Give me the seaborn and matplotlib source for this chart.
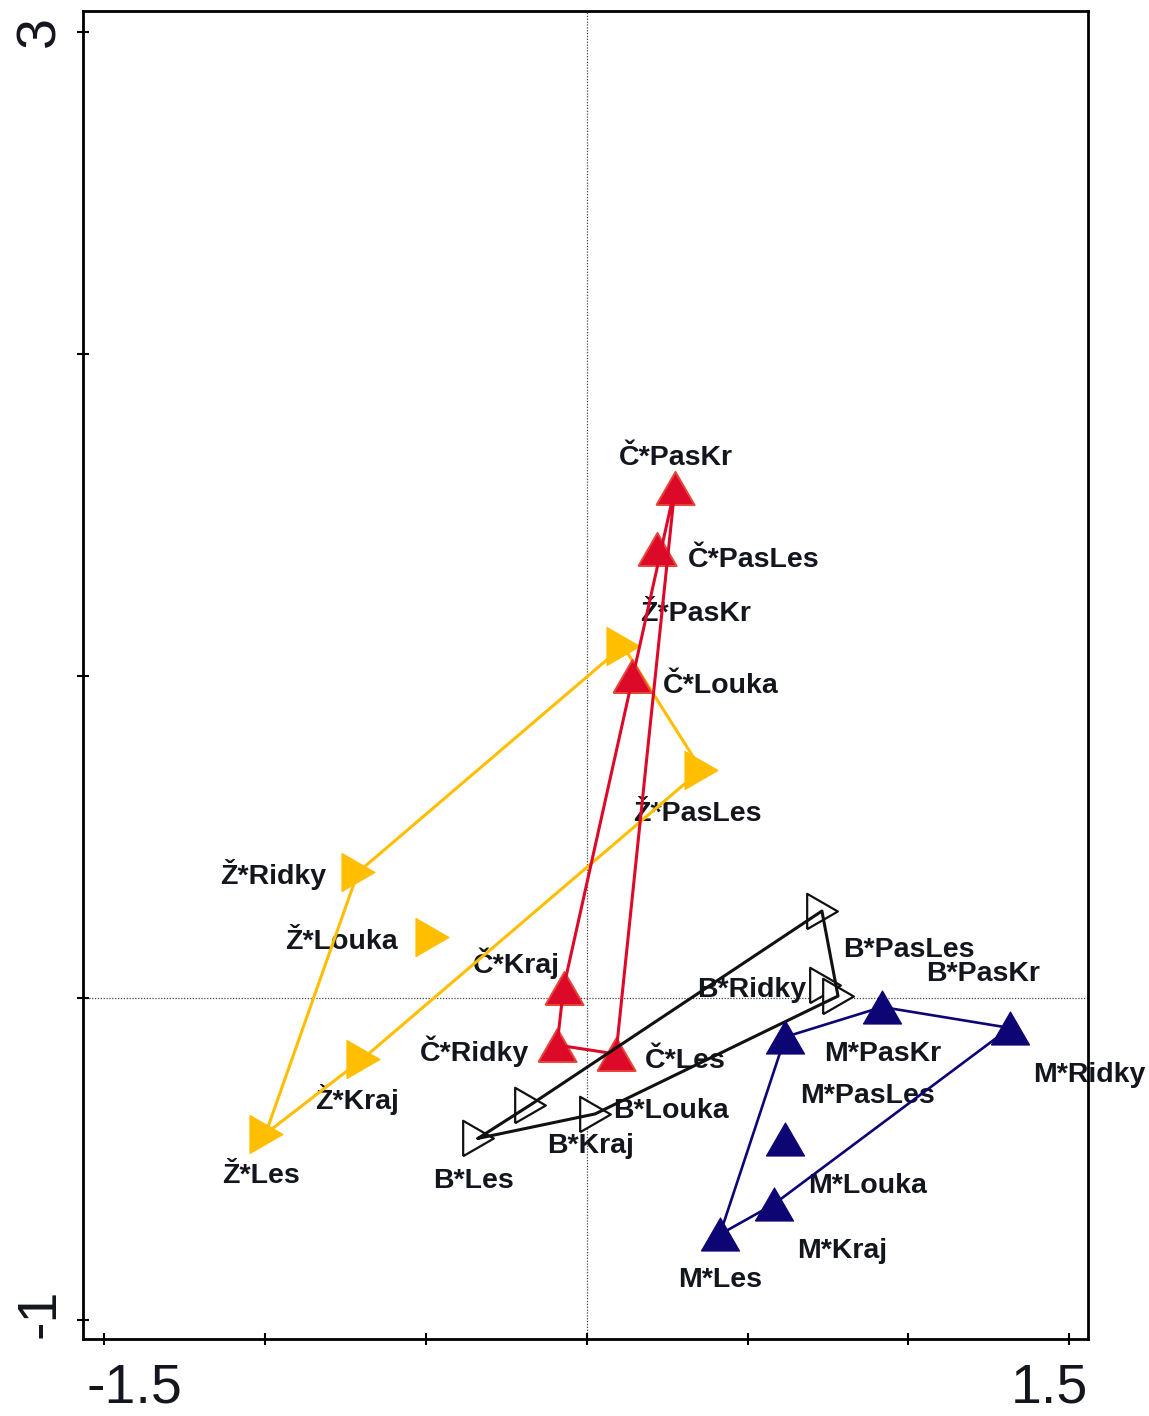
import numpy as np
import pandas as pd
import matplotlib
matplotlib.use("Agg")
import matplotlib.pyplot as plt
import seaborn as sns
from matplotlib.transforms import ScaledTranslation

# ---------------- data (ordination scores) ----------------
sites = ["Les", "Kraj", "Louka", "Ridky", "PasKr", "PasLes"]

z_x = [-0.998, -0.695, -0.481, -0.711, 0.113, 0.356]
z_y = [-0.422, -0.188, 0.188, 0.390, 1.093, 0.709]

c_x = [0.091, -0.072, 0.141, -0.092, 0.274, 0.218]
c_y = [-0.174, 0.031, 1.000, -0.146, 1.583, 1.394]

b_x = [-0.338, -0.175, 0.026, 0.741, 0.781, 0.731]
b_y = [-0.436, -0.332, -0.360, 0.040, 0.006, 0.270]

m_x = [0.414, 0.582, 0.617, 1.315, 0.918, 0.617]
m_y = [-0.734, -0.640, -0.438, -0.093, -0.028, -0.121]

# envelope (polygon) order for each group
z_env = ["Ridky", "PasKr", "PasLes", "Kraj", "Les", "Ridky"]
c_env = ["PasKr", "Kraj", "Ridky", "Les", "PasKr"]
b_env = ["Les", "Kraj", "PasLes", "PasKr", "Louka", "Les"]
m_env = ["Les", "PasLes", "PasKr", "Ridky", "Kraj", "Les"]

x_ticks = [-1.5, -1.0, -0.5, 0.0, 0.5, 1.0, 1.5]
x_ticklabels = ["-1.5", "", "", "", "", "", "1.5"]
y_ticks = [-1, 0, 1, 2, 3]
y_ticklabels = ["-1", "", "", "", "3"]

# ---------------- layout / style ----------------
# label offsets in pixels (dx right, dy down) from the marker to the label's left baseline
z_off = {"Les": (-43, 49), "Kraj": (-48, 50), "Louka": (-147, 12), "Ridky": (-138, 12),
         "PasKr": (17, -25), "PasLes": (-68, 51)}
c_off = {"Les": (29, 14), "Kraj": (-91, -15), "Louka": (31, 17), "Ridky": (-137, 16),
         "PasKr": (-56, -23), "PasLes": (31, 18)}
b_off = {"Les": (-45, 50), "Kraj": (17, 48), "Louka": (18, 4), "Ridky": (-128, 12),
         "PasKr": (88, -15), "PasLes": (21, 46)}
m_off = {"Les": (-42, 53), "Kraj": (23, 54), "Louka": (23, 54), "Ridky": (23, 54),
         "PasKr": (-58, 54), "PasLes": (15, 66)}

sns.set_theme(style="white")
plt.rcParams["font.family"] = ["Liberation Sans", "DejaVu Sans"]

YELLOW = "#FFBE00"
RED = "#DC0A28"
RED_EDGE = "#E8463C"
NAVY = "#0C0573"
BLACK = "#111111"
TXT = "#14161E"

UP = [(-1, -0.866), (1, -0.866), (0, 0.866), (-1, -0.866)]
RIGHT = [(-0.866, -1), (-0.866, 1), (0.866, 0), (-0.866, -1)]

fig = plt.figure(figsize=(11.49, 14.16), dpi=100)
ax = fig.add_axes([0.0725, 0.0544, 0.8744, 0.9378])

ax.axhline(0, color="#444444", lw=0.9, ls=(0, (1, 1.3)), zorder=0.5)
ax.axvline(0, color="#444444", lw=0.9, ls=(0, (1, 1.3)), zorder=0.5)

groups = [
    ("Ž*", z_x, z_y, z_env, z_off, dict(marker=RIGHT, s=27.5 ** 2, color=YELLOW,
                                        edgecolor=YELLOW, linewidth=0.8), YELLOW, 2.2),
    ("Č*", c_x, c_y, c_env, c_off, dict(marker=UP, s=27.5 ** 2, color=RED,
                                        edgecolor=RED_EDGE, linewidth=1.4), RED, 2.2),
    ("B*", b_x, b_y, b_env, b_off, dict(marker=RIGHT, s=25.5 ** 2, color="white",
                                        edgecolor=BLACK, linewidth=1.6), BLACK, 2.2),
    ("M*", m_x, m_y, m_env, m_off, dict(marker=UP, s=27.5 ** 2, color=NAVY,
                                        edgecolor=NAVY, linewidth=0.8), NAVY, 1.9),
]

z = 2
for prefix, gx, gy, env, off, mk, lc, lw in groups:
    df = pd.DataFrame({"site": sites, "x": gx, "y": gy}).set_index("site")
    sns.scatterplot(x=df["x"].values, y=df["y"].values, ax=ax, zorder=z, legend=False, **mk)
    env_df = df.loc[env]
    sns.lineplot(x=env_df["x"].values, y=env_df["y"].values, sort=False, estimator=None,
                 color=lc, lw=lw, ax=ax, zorder=z + 0.5, legend=False)
    for s in sites:
        dx, dy = off[s]
        ax.annotate(prefix + s, (df.loc[s, "x"], df.loc[s, "y"]), xytext=(dx, -dy),
                    textcoords="offset pixels", ha="left", va="baseline",
                    fontsize=20.5, fontweight="bold", color=TXT, zorder=1.5)
    z += 1

ax.set_xlim(-1.5643, 1.5578)
ax.set_ylim(-1.0587, 3.0643)
ax.set_xticks(x_ticks)
ax.set_xticklabels(x_ticklabels)
ax.set_yticks(y_ticks)
ax.set_yticklabels(y_ticklabels, rotation=90, va="center")
ax.tick_params(axis="both", direction="inout", length=9, width=1.5, color="black",
               labelsize=40, labelcolor=TXT, left=True, bottom=True)
ax.tick_params(axis="x", pad=12.5)
ax.tick_params(axis="y", pad=9)
ax.set_xlabel("")
ax.set_ylabel("")
for sp in ax.spines.values():
    sp.set_visible(True)
    sp.set_color("black")
    sp.set_linewidth(2.0)
ax.grid(False)

for lab in ax.get_xticklabels():
    t = lab.get_text()
    if t == "-1.5":
        lab.set_transform(lab.get_transform() + ScaledTranslation(0.30, 0, fig.dpi_scale_trans))
    elif t == "1.5":
        lab.set_transform(lab.get_transform() + ScaledTranslation(-0.20, 0, fig.dpi_scale_trans))
for lab in ax.get_yticklabels():
    if lab.get_text() == "-1":
        lab.set_transform(lab.get_transform() + ScaledTranslation(0.02, 0.07, fig.dpi_scale_trans))
    elif lab.get_text() == "3":
        lab.set_transform(lab.get_transform() + ScaledTranslation(0.02, 0.0, fig.dpi_scale_trans))

fig.savefig("out.png", dpi=100)
